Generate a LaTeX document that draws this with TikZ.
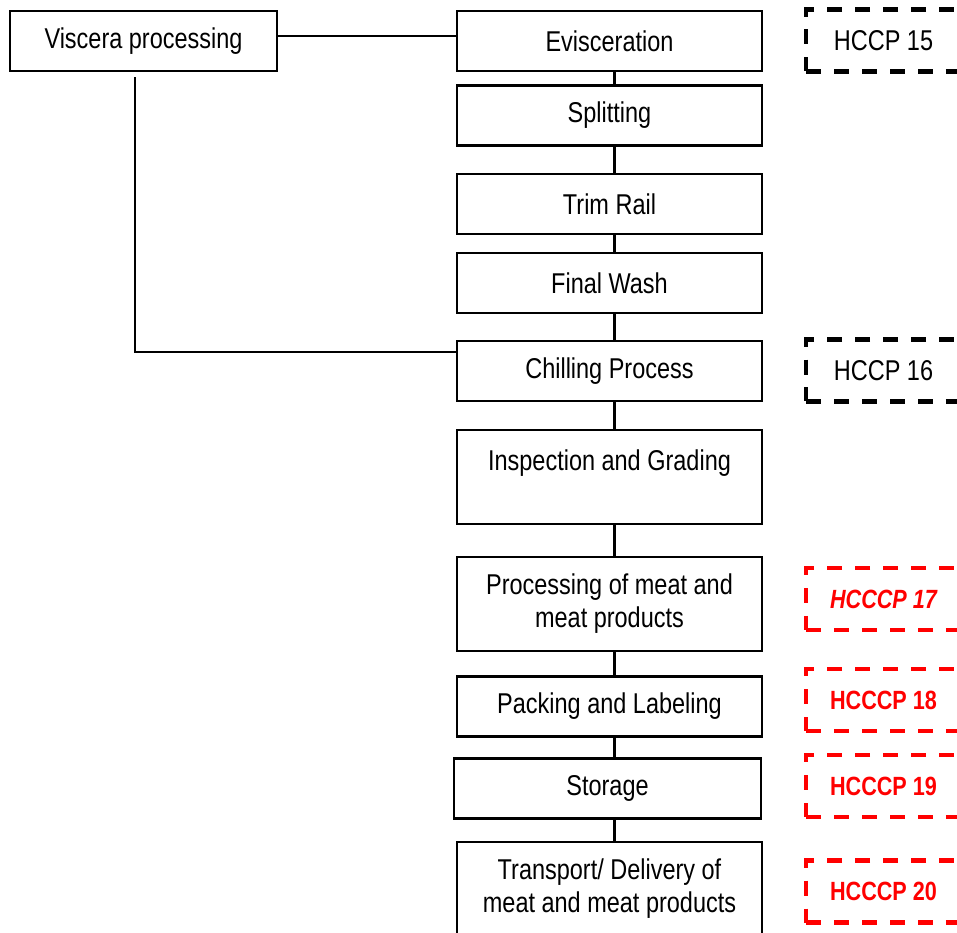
\documentclass[tikz,border=0pt]{standalone}
\usepackage{fontspec}
\setmainfont[FakeStretch=0.82]{Liberation Sans}
\begin{document}
\begin{tikzpicture}[x=0.02cm, y=-0.02cm,
  every node/.style={font=\fontsize{16.3}{18.8}\selectfont},
  link/.style={line width=1.2pt},
  stepbox/.style={draw, line width=1.2pt, inner sep=0pt, align=center,
    minimum width=6.1cm, minimum height=1.2cm},
  hccpbox/.style={draw, dash pattern=on 0.3cm off 0.26cm, line width=2.3pt,
    inner sep=0pt, minimum width=3.1cm, minimum height=1.24cm},
  redbox/.style={hccpbox, draw=red, text=red,
    font=\fontsize{15}{18}\selectfont\bfseries}]
  \path[use as bounding box, clip] (0,0) rectangle (957,933);

  \node[stepbox, minimum width=5.34cm] (visc) at (143.5,41) {Viscera processing};
  \node[stepbox] (evis) at (609.5,41) {Evisceration};
  \node[stepbox] (split) at (609.5,115.5) {Splitting};
  \node[stepbox] (trim) at (609.5,204) {Trim Rail};
  \node[stepbox] (wash) at (609.5,283) {Final Wash};
  \node[stepbox] (chill) at (609.5,371) {Chilling Process};
  \node[stepbox, minimum height=1.88cm] (insp) at (609.5,477)
    {Inspection and Grading\\ \mbox{}};
  \node[stepbox, minimum height=1.88cm] (proc) at (609.5,604)
    {Processing of meat and\\ meat products};
  \node[stepbox] (pack) at (609.5,706.5) {Packing and Labeling};
  \node[stepbox, minimum width=6.14cm] (stor) at (607.5,788.5) {Storage};
  \node[stepbox, minimum height=1.88cm] (trans) at (609.5,889)
    {Transport/ Delivery of\\ meat and meat products};

  \node[hccpbox] (h15) at (883.5,40.5) {HCCP 15};
  \node[hccpbox] (h16) at (883.5,370.5) {HCCP 16};
  \node[redbox, font=\fontsize{15}{18}\selectfont\bfseries\itshape] (h17) at (883.5,599) {HCCCP 17};
  \node[redbox] (h18) at (883.5,700) {HCCCP 18};
  \node[redbox] (h19) at (883.5,786) {HCCCP 19};
  \node[redbox] (h20) at (883.5,891.5) {HCCCP 20};

  \draw[link] ([yshift=0.1cm]visc.east) -- ([yshift=0.1cm]visc.east -| evis.west);
  \draw[link, shorten <=0.1cm] ([xshift=-0.17cm]visc.south) |- ([yshift=0.38cm]chill.west);

  \foreach \a/\b in {evis/split, split/trim, trim/wash, wash/chill, chill/insp,
                     insp/proc, proc/pack, pack/stor, stor/trans}
    \draw[link] ([xshift=0.1cm]evis.south |- \a.south) -- ([xshift=0.1cm]evis.south |- \b.north);
\end{tikzpicture}
\end{document}
